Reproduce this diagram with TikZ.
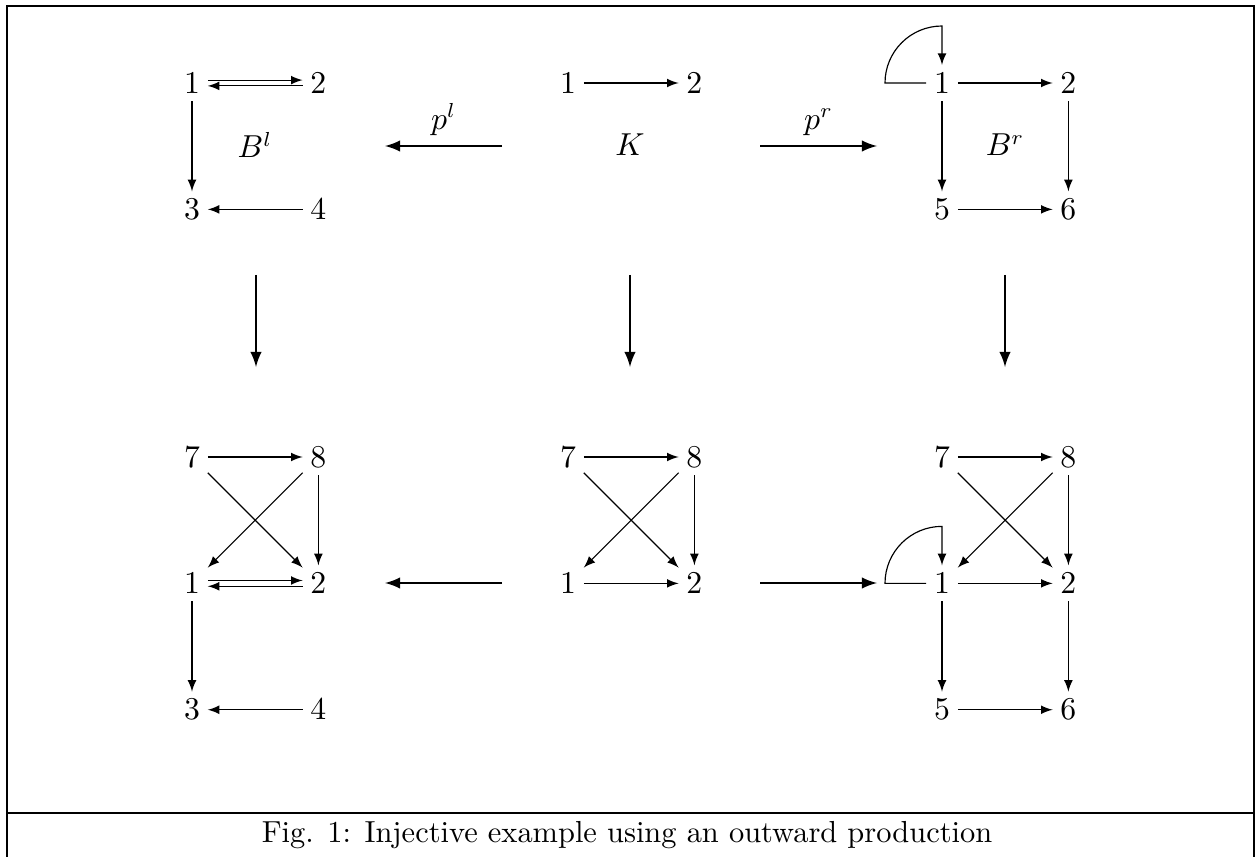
\documentclass[tikz,border=0pt]{standalone}
\usepackage{amsmath,amssymb}
\usepackage{tikz}
\usetikzlibrary{positioning,calc,arrows.meta}

\begin{document}
\begin{tikzpicture}[x=0.345pt,y=0.345pt,every node/.style={font=\fontsize{10.5}{13}\selectfont}]
\tikzstyle{vert}=[inner sep=2.5pt]
\tikzstyle{edge}=[-latex]
\tikzstyle{morph}=[-latex,thick]
\tikzset{node distance=43.6pt}
\useasboundingbox (0,0) rectangle (1255,-857);
% frame and caption
\draw (7,-870) -- (7,-6) -- (1254,-6) -- (1254,-870);
\draw (7,-813) -- (1254,-813);
\node (cap) at (627,-835) {Fig. 1: Injective example using an outward production};
% B^l
\node[vert] (l1) at (192,-83) {$1$};
\node[vert,right of=l1] (l2) {$2$};
\node[vert,below of=l1] (l3) {$3$};
\node[vert,right of=l3] (l4) {$4$};
\node (bl) at (255,-145) {$B^l$};
% K
\node[vert] (k1) at (568,-83) {$1$};
\node[vert,right of=k1] (k2) {$2$};
\node (k) at (630,-145) {$K$};
% B^r
\node[vert] (r1) at (942,-83) {$1$};
\node[vert,right of=r1] (r2) {$2$};
\node[vert,below of=r1] (r5) {$5$};
\node[vert,right of=r5] (r6) {$6$};
\node (br) at (1005,-145) {$B^r$};
% D^l
\node[vert] (dl7) at (192,-457) {$7$};
\node[vert,right of=dl7] (dl8) {$8$};
\node[vert,below of=dl7] (dl1) {$1$};
\node[vert,right of=dl1] (dl2) {$2$};
\node[vert,below of=dl1] (dl3) {$3$};
\node[vert,right of=dl3] (dl4) {$4$};
% D
\node[vert] (d7) at (568,-457) {$7$};
\node[vert,right of=d7] (d8) {$8$};
\node[vert,below of=d7] (d1) {$1$};
\node[vert,right of=d1] (d2) {$2$};
% D^r
\node[vert] (dr7) at (942,-457) {$7$};
\node[vert,right of=dr7] (dr8) {$8$};
\node[vert,below of=dr7] (dr1) {$1$};
\node[vert,right of=dr1] (dr2) {$2$};
\node[vert,below of=dr1] (dr5) {$5$};
\node[vert,right of=dr5] (dr6) {$6$};
% morphism ends
\coordinate (pl-s) at (502,-146);
\coordinate (pl-t) at (385,-146);
\coordinate (pr-s) at (760,-146);
\coordinate (pr-t) at (877,-146);
\coordinate (ml-s) at (256,-275);
\coordinate (ml-t) at (256,-367);
\coordinate (mk-s) at (630,-275);
\coordinate (mk-t) at (630,-367);
\coordinate (mr-s) at (1005,-275);
\coordinate (mr-t) at (1005,-367);
\coordinate (ql-s) at (502,-583);
\coordinate (ql-t) at (385,-583);
\coordinate (qr-s) at (760,-583);
\coordinate (qr-t) at (877,-583);
% edges of B^l
\draw[edge] ([yshift=1pt]l1.east) -- ([yshift=1pt]l2.west);
\draw[edge] ([yshift=-1pt]l2.west) -- ([yshift=-1pt]l1.east);
\draw[edge] (l1) -- (l3);
\draw[edge] (l4) -- (l3);
% edges of K
\draw[edge] (k1) -- (k2);
% edges of B^r
\draw[edge] (r1) -- (r2);
\draw[edge] (r1) -- (r5);
\draw[edge] (r2) -- (r6);
\draw[edge] (r5) -- (r6);
\draw[edge] (r1.west) -- ($(r1)+(-57,0)$) arc[start angle=180,end angle=90,radius=57] -- (r1.north);
% edges of D^l
\draw[edge] (dl7) -- (dl8);
\draw[edge] (dl7) -- (dl2);
\draw[edge] (dl8) -- (dl1);
\draw[edge] (dl8) -- (dl2);
\draw[edge] ([yshift=1pt]dl1.east) -- ([yshift=1pt]dl2.west);
\draw[edge] ([yshift=-1pt]dl2.west) -- ([yshift=-1pt]dl1.east);
\draw[edge] (dl1) -- (dl3);
\draw[edge] (dl4) -- (dl3);
% edges of D
\draw[edge] (d7) -- (d8);
\draw[edge] (d7) -- (d2);
\draw[edge] (d8) -- (d1);
\draw[edge] (d8) -- (d2);
\draw[edge] (d1) -- (d2);
% edges of D^r
\draw[edge] (dr7) -- (dr8);
\draw[edge] (dr7) -- (dr2);
\draw[edge] (dr8) -- (dr1);
\draw[edge] (dr8) -- (dr2);
\draw[edge] (dr1) -- (dr2);
\draw[edge] (dr1) -- (dr5);
\draw[edge] (dr2) -- (dr6);
\draw[edge] (dr5) -- (dr6);
\draw[edge] (dr1.west) -- ($(dr1)+(-57,0)$) arc[start angle=180,end angle=90,radius=57] -- (dr1.north);
% morphisms
\draw[morph] (pl-s) -- (pl-t) node[midway,above]{$p^l$};
\draw[morph] (pr-s) -- (pr-t) node[midway,above]{$p^r$};
\draw[morph] (ml-s) -- (ml-t);
\draw[morph] (mk-s) -- (mk-t);
\draw[morph] (mr-s) -- (mr-t);
\draw[morph] (ql-s) -- (ql-t);
\draw[morph] (qr-s) -- (qr-t);
\end{tikzpicture}
\end{document}
